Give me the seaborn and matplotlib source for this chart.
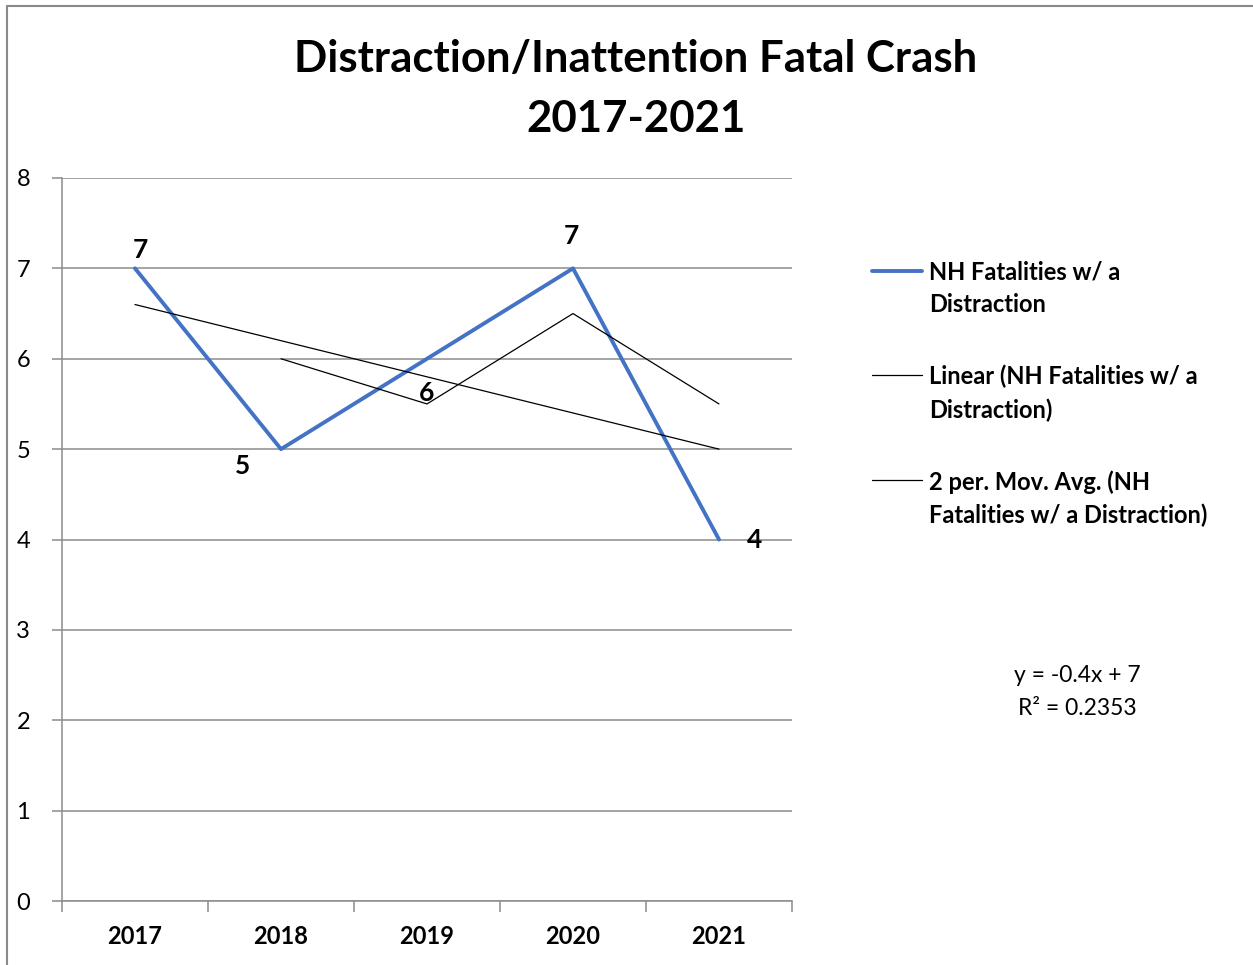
import matplotlib

matplotlib.use("Agg")
import matplotlib.pyplot as plt  # noqa: E402
import numpy as np  # noqa: E402
import pandas as pd  # noqa: E402
import seaborn as sns  # noqa: E402
from matplotlib.lines import Line2D  # noqa: E402

years = ["2017", "2018", "2019", "2020", "2021"]
fatalities = [7, 5, 6, 7, 4]
series_name = "NH Fatalities w/ a\nDistraction"
trend_name = "Linear (NH Fatalities w/ a\nDistraction)"
avg_name = "2 per. Mov. Avg. (NH\nFatalities w/ a Distraction)"
title = "Distraction/Inattention Fatal Crash\n2017-2021"

sns.set_theme(style="white")
plt.rcParams["font.family"] = ["Lato", "DejaVu Sans"]
plt.rcParams["text.color"] = "black"
plt.rcParams["xtick.color"] = "black"
plt.rcParams["ytick.color"] = "black"

df = pd.DataFrame({"year": years, "fatalities": fatalities})
pos = np.arange(len(years))

# Excel-style trendlines, derived from the series itself
slope, intercept = np.polyfit(pos + 1, df["fatalities"], 1)
trend = slope * (pos + 1) + intercept
moving = df["fatalities"].rolling(2).mean()
r2 = np.corrcoef(pos + 1, df["fatalities"])[0, 1] ** 2

fig = plt.figure(figsize=(12.53, 9.65), dpi=100)
ax = fig.add_axes([62 / 1253, 1 - 901 / 965, 730 / 1253, 723 / 965])

grid_col = "#8c8c8c"
blue = "#4472C4"

sns.lineplot(x=pos, y=df["fatalities"], ax=ax, color=blue, linewidth=2.8)
ax.plot(pos, trend, color="black", linewidth=0.9)
ax.plot(pos, moving, color="black", linewidth=0.9)

ax.set_xlim(-0.5, len(years) - 0.5)
ax.set_ylim(0, 8)
ax.set_yticks(range(0, 9))
ax.yaxis.grid(True, color=grid_col, linewidth=1.1)
ax.set_axisbelow(True)
for side in ["top", "right"]:
    ax.spines[side].set_visible(False)
for side in ["left", "bottom"]:
    ax.spines[side].set_color(grid_col)
    ax.spines[side].set_linewidth(1.1)

ax.set_xticks(pos)
ax.set_xticklabels(years, fontsize=17, fontweight="bold")
ax.tick_params(axis="x", length=0, pad=17)
ax.set_xticks(np.arange(-0.5, len(years)), minor=True)
ax.tick_params(axis="x", which="minor", bottom=True, length=8, width=1.1, color=grid_col, direction="out")
ax.tick_params(axis="y", left=True, length=7, width=1.1, color=grid_col, labelsize=17, pad=16)
ax.set_xlabel("")
ax.set_ylabel("")

# data labels, placed the way the original chart has them
offsets = [(0.04, 0.07, "center", "bottom"), (-0.26, -0.05, "center", "top"),
           (0.0, -0.25, "center", "top"), (-0.01, 0.22, "center", "bottom"),
           (0.24, 0.0, "center", "center")]
for x, y, (dx, dy, ha, va) in zip(pos, fatalities, offsets):
    ax.text(x + dx, y + dy, str(y), fontsize=19, fontweight="bold", ha=ha, va=va)

fig.text(636 / 1253, 1 - 89 / 965, title, fontsize=31.5, fontweight="bold",
         ha="center", va="center", linespacing=1.6)

# manual legend, handle aligned with first text line like Excel
legend_items = [(series_name, blue, 2.8, 271), (trend_name, "black", 0.9, 375), (avg_name, "black", 0.9, 480)]
for label, color, lw, ypix in legend_items:
    yf = 1 - ypix / 965
    fig.add_artist(Line2D([872 / 1253, 922 / 1253], [yf, yf], color=color, linewidth=lw))
    fig.text(929 / 1253, 1 - (ypix - 10) / 965, label, fontsize=17, fontweight="bold",
             ha="left", va="top", linespacing=1.5)

fig.text(1077 / 1253, 1 - 692 / 965, f"y = {slope:.1f}x + {intercept:.0f}\nR² = {r2:.4f}",
         fontsize=16.5, ha="center", va="center", linespacing=1.65)

# chart-area border (top and left edges visible in the crop)
fig.add_artist(Line2D([7 / 1253, 1.0], [1 - 6 / 965, 1 - 6 / 965], color="#898989", linewidth=1.5))
fig.add_artist(Line2D([7 / 1253, 7 / 1253], [0, 1 - 6 / 965], color="#898989", linewidth=1.5))

fig.savefig("out.png", dpi=100)
